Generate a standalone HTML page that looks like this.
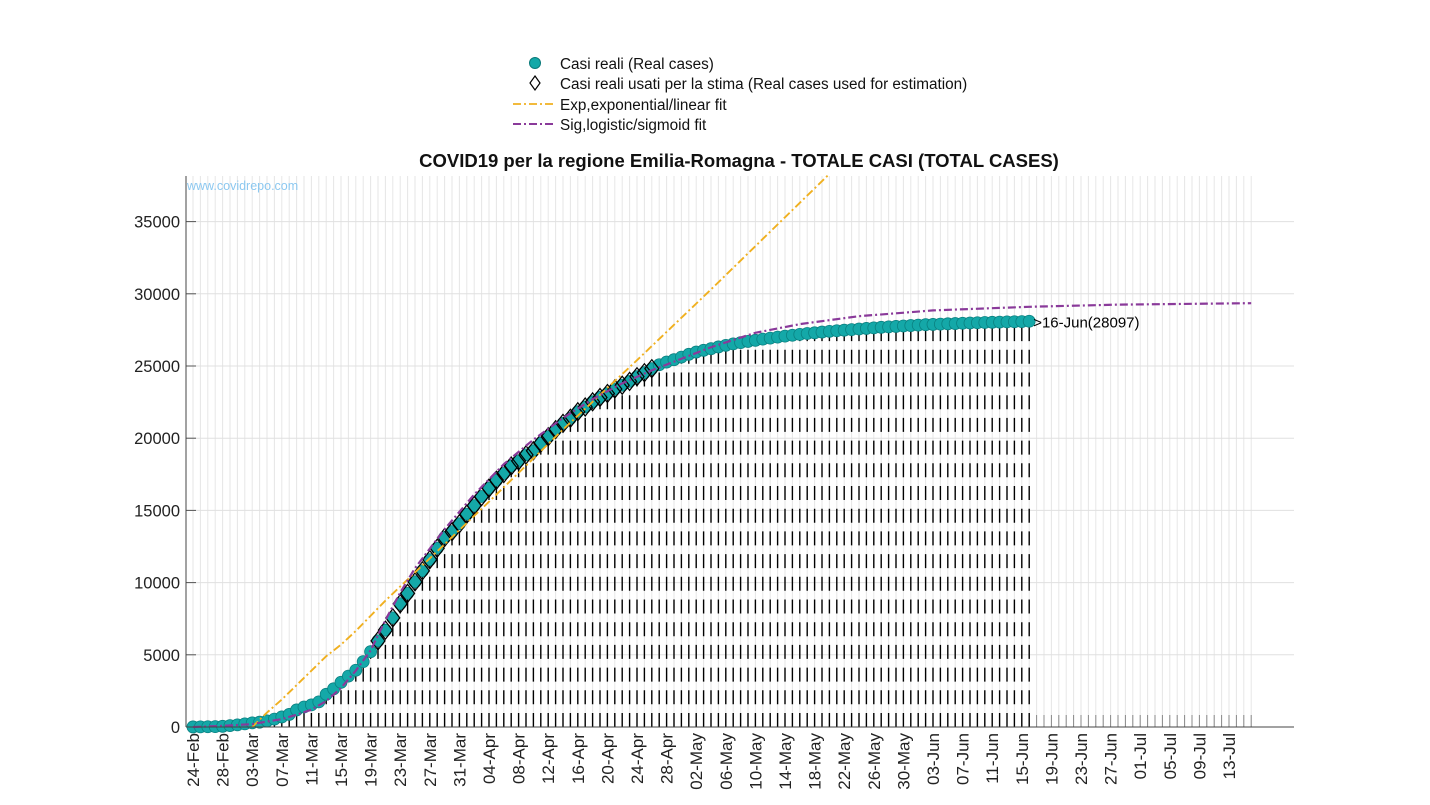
<!DOCTYPE html>
<html><head><meta charset="utf-8"><style>
body{margin:0;background:#fff;width:1430px;height:800px;overflow:hidden}
svg{font-family:"Liberation Sans",Arial,sans-serif}
</style></head><body>
<svg id="chart" width="1430" height="800">
<g id="grid"></g>
<g id="stems"></g>
<g id="series"></g>
<g id="axes"></g>
<text x="187" y="190" font-size="12.5" fill="#8cc8f0">www.covidrepo.com</text>
<text x="739" y="167" font-size="18.5" font-weight="bold" text-anchor="middle" fill="#111">COVID19 per la regione Emilia-Romagna - TOTALE CASI (TOTAL CASES)</text>
<g font-size="15.3" fill="#111">
 <g><circle cx="535" cy="63" r="5.5" fill="#14a8a8" stroke="#0a7a7a"/><text x="560" y="69">Casi reali (Real cases)</text></g>
 <g><path d="M535,76 L540,83 L535,90 L530,83 Z" fill="none" stroke="#000" stroke-width="1.2"/><text x="560" y="89">Casi reali usati per la stima (Real cases used for estimation)</text></g>
 <g><line x1="513" y1="104" x2="555" y2="104" stroke="#f0b020" stroke-width="1.8" stroke-dasharray="8 3 2 3"/><text x="560" y="110">Exp,exponential/linear fit</text></g>
 <g><line x1="513" y1="124" x2="555" y2="124" stroke="#8a3a9a" stroke-width="2" stroke-dasharray="8 3 2 3"/><text x="560" y="130">Sig,logistic/sigmoid fit</text></g>
</g>
</svg>
<script>
const realCases=[5,10,18,26,47,97,145,217,285,335,420,544,698,870,1180,1386,1533,1739,2263,2644,3093,3522,3931,4525,5214,5968,6705,7555,8535,9254,10054,10816,11588,12383,13119,13531,14074,14740,15333,15963,16540,17089,17556,18074,18431,18845,19128,19655,20098,20591,21029,21379,21834,22160,22519,22822,23092,23409,23667,23937,24260,24537,24815,25085,25272,25436,25617,25811,25964,26085,26200,26320,26430,26530,26620,26700,26780,26860,26930,27000,27070,27130,27190,27250,27300,27350,27400,27440,27480,27520,27560,27600,27640,27680,27710,27740,27770,27800,27830,27860,27880,27900,27920,27940,27960,27980,27995,28010,28025,28040,28055,28065,28075,28097];
const usedStart=25, usedEnd=62;
const expDays=[8,10,12,14,16,18,20,22,26,30,40,50,60,70,80,86];
const expVals=[0,1000,1900,2900,3900,4900,5700,6650,8750,10700,15600,20600,25400,30300,35300,38300];
const sigDays=[0,4,8,12,14,16,18,20,22,24,26,28,30,34,38,42,46,50,54,58,62,66,70,76,82,90,100,113,125,143];
const sigVals=[0,80,200,550,850,1200,1800,2700,3900,5300,7400,9300,11000,13700,16100,18200,19900,21400,22700,23800,24700,25500,26300,27300,27900,28450,28850,29100,29250,29350];
const yTicks=[0,5000,10000,15000,20000,25000,30000,35000];
const months=["Jan","Feb","Mar","Apr","May","Jun","Jul"];
const ns="http://www.w3.org/2000/svg";
const X0=193,PX=7.4,Y0=727,PY=72.2/5000,LEFT=186,RIGHT=1294,TOP=176,LASTDAY=143;
const x=d=>X0+d*PX, y=v=>Y0-v*PY;
function mk(p,t,a){const e=document.createElementNS(ns,t);for(const k in a)e.setAttribute(k,a[k]);p.appendChild(e);return e;}
const grid=document.getElementById('grid'),stems=document.getElementById('stems'),series=document.getElementById('series'),axes=document.getElementById('axes');
for(let d=0;d<=LASTDAY;d++){const g=mk(grid,'line',{x1:x(d),x2:x(d),y1:TOP,y2:Y0,stroke:'#e6e6e6','stroke-width':1});

}
yTicks.forEach(v=>{const g=mk(grid,'line',{x1:LEFT,x2:RIGHT,y1:y(v),y2:y(v),stroke:'#e0e0e0'});


const t=mk(axes,'line',{x1:LEFT,x2:LEFT+10,y1:y(v),y2:y(v),stroke:'#555'});


const l=mk(axes,'text',{x:LEFT-6,y:y(v)+6,'text-anchor':'end','font-size':16.5,fill:'#222'});l.textContent=v;

});
for(let d=0;d<=LASTDAY;d++){
 if(d<realCases.length){const s=mk(stems,'line',{x1:x(d),x2:x(d),y1:Y0,y2:y(realCases[d])+6,stroke:'#000','stroke-width':1.4,'stroke-dasharray':'14 8.7'});
 
 }
 else{const s=mk(stems,'line',{x1:x(d),x2:x(d),y1:Y0,y2:Y0-12,stroke:'#888','stroke-width':1});
 
 }
}
function poly(days,vals,col,w,name){const p=mk(series,'polyline',{points:days.map((d,i)=>x(d)+','+y(vals[i])).join(' '),fill:'none',stroke:col,'stroke-width':w,'stroke-dasharray':'8 3 2 3'});

return p;}
realCases.forEach((v,d)=>{const c=mk(series,'circle',{cx:x(d),cy:y(v),r:6,fill:'#14a8a8',stroke:'#0a8080','stroke-width':0.8});

});
for(let d=usedStart;d<=usedEnd;d++){const cx=x(d),cy=y(realCases[d]);const m=mk(series,'path',{d:`M${cx},${cy-9} L${cx+7},${cy} L${cx},${cy+9} L${cx-7},${cy} Z`,fill:'none',stroke:'#000','stroke-width':1.2});

}
poly(expDays,expVals,'#f0b020',1.9,'exp-fit-line');
poly(sigDays,sigVals,'#8a3a9a',2.2,'sigmoid-fit-line');
const last=realCases.length-1;
const lbl=mk(series,'text',{x:x(last)+4,y:y(realCases[last])+6,'font-size':15,fill:'#000'});lbl.textContent='>16-Jun('+realCases[last]+')';


const ax1=mk(axes,'line',{x1:LEFT,x2:LEFT,y1:TOP,y2:Y0,stroke:'#444'});


const ax2=mk(axes,'line',{x1:LEFT,x2:RIGHT,y1:Y0,y2:Y0,stroke:'#444'});


const start=new Date(2020,1,24);
for(let d=0;d<=LASTDAY;d+=4){const dt=new Date(start.getTime()+d*864e5+3600e3);const s=String(dt.getDate()).padStart(2,'0')+'-'+months[dt.getMonth()];
const t=mk(axes,'text',{transform:`translate(${x(d)+6},${Y0+6}) rotate(-90)`,'text-anchor':'end','font-size':17,fill:'#222'});t.textContent=s;

}
</script>
</body></html>
